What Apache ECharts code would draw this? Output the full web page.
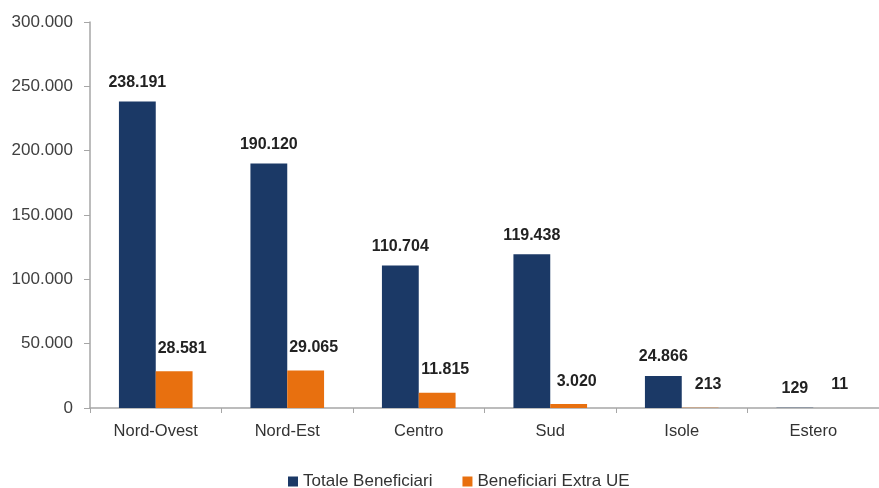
<!DOCTYPE html>
<html lang="it">
<head>
    <meta charset="UTF-8">
    <title>Beneficiari per ripartizione</title>
    <script src="https://cdn.jsdelivr.net/npm/echarts@6/dist/echarts.min.js"></script>
    <style>
        html, body { margin: 0; padding: 0; background: #fff; }
        #fig1 { width: 879px; height: 488px; }
    </style>
</head>
<body>
    <div id="fig1"></div>
    <script>
        // dati
        let regions = ['Nord-Ovest', 'Nord-Est', 'Centro', 'Sud', 'Isole', 'Estero'];
        let totaleBeneficiari = [238191, 190120, 110704, 119438, 24866, 129];
        let extraUE = [28581, 29065, 11815, 3020, 213, 11];
        let seriesNames = ['Totale Beneficiari', 'Beneficiari Extra UE'];

        // separatore delle migliaia all'italiana
        function fmt (v) {
            return String(v).replace(/\B(?=(\d{3})+(?!\d))/g, '.');
        }

        let fig1 = echarts.init(document.getElementById('fig1'), null, {renderer: 'canvas'});
        let font = 'Liberation Sans, Arial, sans-serif';

        let option = {
            animation: false,
            textStyle: { fontFamily: font },
            grid: {
                left: 90,
                right: 0,
                top: 22,
                bottom: 80
            },
            legend: {
                data: seriesNames,
                left: 288,
                top: 473,
                padding: 0,
                itemWidth: 10,
                itemHeight: 10,
                itemGap: 30,
                icon: 'rect',
                textStyle: { fontSize: 17, color: '#333', fontFamily: font }
            },
            xAxis: {
                type: 'category',
                data: regions,
                axisLine: { lineStyle: { color: '#a6a6a6', width: 1.5 } },
                axisTick: { show: true, length: 5, lineStyle: { color: '#a6a6a6' } },
                axisLabel: { fontSize: 16.5, color: '#333', margin: 15, fontFamily: font }
            },
            yAxis: {
                type: 'value',
                min: 0,
                max: 300000,
                interval: 50000,
                splitLine: { show: false },
                axisLine: { show: true, lineStyle: { color: '#a6a6a6', width: 1.5 } },
                axisTick: { show: true, length: 6, lineStyle: { color: '#a6a6a6' } },
                axisLabel: {
                    fontSize: 17,
                    color: '#404040',
                    margin: 17,
                    fontFamily: font,
                    formatter: fmt
                }
            },
            series: [
                {
                    name: seriesNames[0],
                    type: 'bar',
                    data: totaleBeneficiari,
                    barGap: '0%',
                    barCategoryGap: '44%',
                    itemStyle: { color: '#1b3966' },
                    label: {
                        show: true,
                        position: 'top',
                        distance: 11,
                        fontSize: 16,
                        fontWeight: 'bold',
                        color: '#222',
                        fontFamily: font,
                        formatter: (p) => fmt(p.value)
                    }
                },
                {
                    name: seriesNames[1],
                    type: 'bar',
                    data: extraUE,
                    itemStyle: { color: '#e8700f' },
                    label: {
                        show: true,
                        position: 'top',
                        distance: 14,
                        offset: [8, -1],
                        fontSize: 16,
                        fontWeight: 'bold',
                        color: '#222',
                        fontFamily: font,
                        formatter: (p) => fmt(p.value)
                    }
                }
            ]
        };

        fig1.setOption(option);
    </script>
</body>
</html>
